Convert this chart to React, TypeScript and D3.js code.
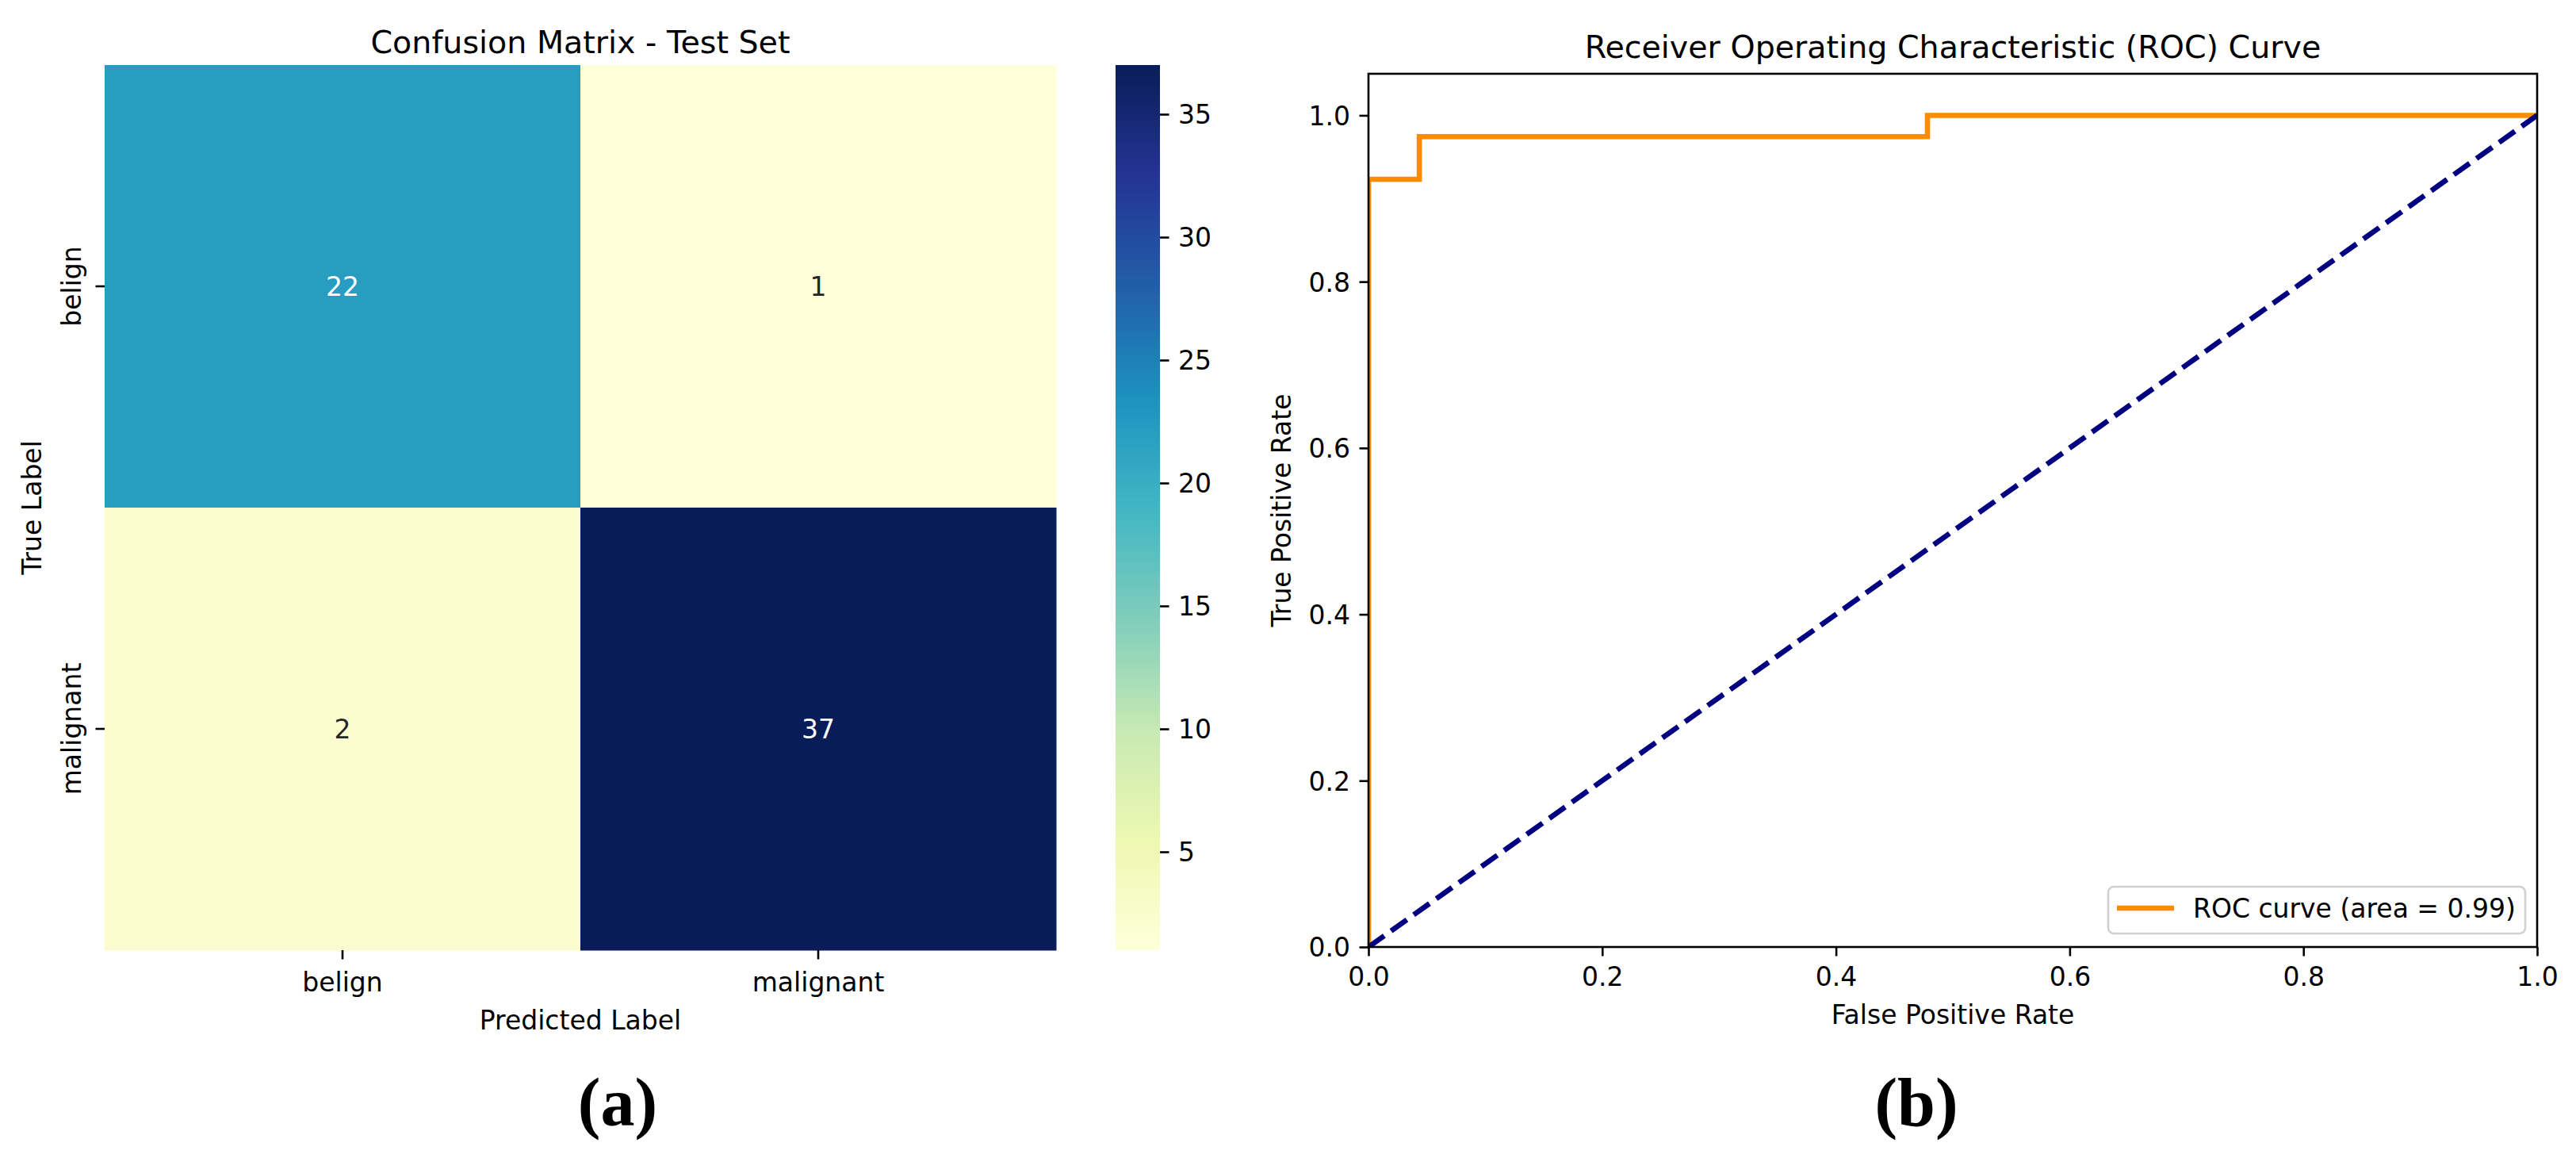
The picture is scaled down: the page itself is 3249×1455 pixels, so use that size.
import { useEffect, useRef } from "react";
import {
  select,
  scaleBand,
  scaleLinear,
  scaleSequential,
  piecewise,
  interpolateRgb,
  axisBottom,
  axisLeft,
  axisRight,
  line,
  format,
  range,
  rgb,
} from "d3";

// chart data
const classLabels = ["belign", "malignant"];
const confusion = [
  [22, 1],
  [2, 37],
];
const colorbarTicks = [5, 10, 15, 20, 25, 30, 35];

const fpr = [0, 0, 0.0435, 0.0435, 0.4783, 0.4783, 1.0];
const tpr = [0, 0.9231, 0.9231, 0.9744, 0.9744, 1.0, 1.0];
const chanceFpr = [0, 1];
const chanceTpr = [0, 1];
const rocTicks = [0, 0.2, 0.4, 0.6, 0.8, 1.0];
const rocLegend = "ROC curve (area = 0.99)";

// matplotlib YlGnBu
const ylgnbu = [
  "#ffffd9", "#edf8b1", "#c7e9b4", "#7fcdbb", "#41b6c4",
  "#1d91c0", "#225ea8", "#253494", "#081d58",
];

const W = 3249;
const H = 1455;
const FONT = "DejaVu Sans";
const FS = 33;
const TITLE_FS = 39.6;
const TICK = 11.5;
const LW = 2.6;

// same rule seaborn uses to pick annotation colour
const luminance = (c: string) => {
  const { r, g, b } = rgb(c);
  const lin = (v: number) => {
    const s = v / 255;
    return s <= 0.03928 ? s / 12.92 : Math.pow((s + 0.055) / 1.055, 2.4);
  };
  return 0.2126 * lin(r) + 0.7152 * lin(g) + 0.0722 * lin(b);
};

const styleAxis = (g: any) => {
  g.select(".domain").remove();
  g.selectAll(".tick line").attr("stroke", "#000").attr("stroke-width", LW);
  g.selectAll(".tick text")
    .attr("fill", "#000")
    .attr("font-size", FS)
    .attr("font-family", FONT);
};

export default function App() {
  const hxRef = useRef<SVGGElement>(null);
  const hyRef = useRef<SVGGElement>(null);
  const cbRef = useRef<SVGGElement>(null);
  const rxRef = useRef<SVGGElement>(null);
  const ryRef = useRef<SVGGElement>(null);

  // heatmap scales
  const hx = scaleBand().domain(classLabels).range([132, 1332]);
  const hy = scaleBand().domain(classLabels).range([82, 1198]);
  const flat = confusion.flat();
  const vmin = Math.min(...flat);
  const vmax = Math.max(...flat);
  const color = scaleSequential(piecewise(interpolateRgb, ylgnbu)).domain([vmin, vmax]);
  const cbScale = scaleLinear().domain([vmin, vmax]).range([1198, 82]);

  // roc scales
  const rx = scaleLinear().domain([0, 1]).range([1726, 3200]);
  const ry = scaleLinear().domain([0, 1.05]).range([1194, 93]);
  const rocPath = line<[number, number]>()
    .x((d) => rx(d[0]))
    .y((d) => ry(d[1]));
  const rocPts = fpr.map((f, i) => [f, tpr[i]] as [number, number]);
  const chancePts = chanceFpr.map((f, i) => [f, chanceTpr[i]] as [number, number]);

  useEffect(() => {
    document.body.style.margin = "0";

    // heatmap x axis
    const gx = select(hxRef.current);
    gx.call(axisBottom(hx).tickSize(TICK).tickPadding(TICK).tickSizeOuter(0) as any);
    styleAxis(gx);
    gx.selectAll(".tick text").attr("dy", "0.87em");

    // heatmap y axis, rotated labels
    const gy = select(hyRef.current);
    gy.call(axisLeft(hy).tickSize(TICK).tickSizeOuter(0) as any);
    styleAxis(gy);
    gy.selectAll(".tick text")
      .attr("transform", "rotate(-90)")
      .attr("x", 0)
      .attr("y", -30)
      .attr("dy", null)
      .attr("text-anchor", "middle");

    // colorbar axis
    const gc = select(cbRef.current);
    gc.call(axisRight(cbScale).tickValues(colorbarTicks).tickSize(TICK).tickPadding(TICK).tickSizeOuter(0) as any);
    styleAxis(gc);
    gc.selectAll(".tick text").attr("dy", "0.36em");

    // roc axes
    const fmt = format(".1f");
    const grx = select(rxRef.current);
    grx.call(axisBottom(rx).tickValues(rocTicks).tickFormat(fmt as any).tickSize(TICK).tickPadding(TICK).tickSizeOuter(0) as any);
    styleAxis(grx);
    grx.selectAll(".tick text").attr("dy", "0.78em");

    const gry = select(ryRef.current);
    gry.call(axisLeft(ry).tickValues(rocTicks).tickFormat(fmt as any).tickSize(TICK).tickPadding(TICK).tickSizeOuter(0) as any);
    styleAxis(gry);
    gry.selectAll(".tick text").attr("dy", "0.36em");
  }, []);

  const gradStops = range(0, 41).map((i) => i / 40);

  return (
    <svg
      width={W}
      height={H}
      style={{ position: "absolute", left: 0, top: 0, background: "#fff" }}
      fontFamily={FONT}
    >
      <defs>
        <linearGradient id="cbar" x1="0" y1="1" x2="0" y2="0">
          {gradStops.map((t) => (
            <stop key={t} offset={t} stopColor={color(vmin + t * (vmax - vmin))} />
          ))}
        </linearGradient>
        <clipPath id="rocClip">
          <rect x={1726} y={93} width={3200 - 1726} height={1194 - 93} />
        </clipPath>
      </defs>
      <rect width={W} height={H} fill="#fff" />

      {/* (a) confusion matrix */}
      <text x={732} y={67} textAnchor="middle" fontSize={TITLE_FS} fill="#000">
        Confusion Matrix - Test Set
      </text>
      {confusion.map((row, i) =>
        row.map((v, j) => {
          const c = color(v);
          return (
            <g key={`${i}-${j}`}>
              <rect
                x={hx(classLabels[j])}
                y={hy(classLabels[i])}
                width={hx.bandwidth() + 0.5}
                height={hy.bandwidth() + 0.5}
                fill={c}
              />
              <text
                x={(hx(classLabels[j]) as number) + hx.bandwidth() / 2}
                y={(hy(classLabels[i]) as number) + hy.bandwidth() / 2}
                dy="0.36em"
                textAnchor="middle"
                fontSize={FS}
                fill={luminance(c) < 0.408 ? "#fff" : "#262626"}
              >
                {v}
              </text>
            </g>
          );
        })
      )}
      <g ref={hxRef} transform="translate(0,1198)" />
      <g ref={hyRef} transform="translate(132,0)" />
      <text x={732} y={1298} textAnchor="middle" fontSize={FS} fill="#000">
        Predicted Label
      </text>
      <text transform="translate(52,640) rotate(-90)" textAnchor="middle" fontSize={FS} fill="#000">
        True Label
      </text>

      {/* colorbar */}
      <rect x={1407} y={82} width={56} height={1198 - 82} fill="url(#cbar)" />
      <g ref={cbRef} transform="translate(1463,0)" />

      {/* (b) roc curve */}
      <text x={2463} y={73} textAnchor="middle" fontSize={TITLE_FS} fill="#000">
        Receiver Operating Characteristic (ROC) Curve
      </text>
      <g clipPath="url(#rocClip)">
        <path d={rocPath(rocPts) as string} fill="none" stroke="#ff8c00" strokeWidth={6.6} />
        <path
          d={rocPath(chancePts) as string}
          fill="none"
          stroke="#000080"
          strokeWidth={6.6}
          strokeDasharray="24.4 10.6"
        />
      </g>
      <rect x={1726} y={93} width={3200 - 1726} height={1194 - 93} fill="none" stroke="#000" strokeWidth={LW} />
      <g ref={rxRef} transform="translate(0,1194)" />
      <g ref={ryRef} transform="translate(1726,0)" />
      <text x={2463} y={1291} textAnchor="middle" fontSize={FS} fill="#000">
        False Positive Rate
      </text>
      <text transform="translate(1628,643.5) rotate(-90)" textAnchor="middle" fontSize={FS} fill="#000">
        True Positive Rate
      </text>

      {/* legend */}
      <rect x={2659} y={1118} width={526} height={59} rx={7} fill="#fff" stroke="#d0d0d0" strokeWidth={LW} />
      <line x1={2670} x2={2742} y1={1145} y2={1145} stroke="#ff8c00" strokeWidth={6.6} />
      <text x={2766} y={1157} fontSize={FS} fill="#000">
        {rocLegend}
      </text>

      {/* panel labels */}
      <text x={779} y={1419} textAnchor="middle" fontSize={86} fontWeight="bold" fontFamily="Liberation Serif" fill="#000">
        (a)
      </text>
      <text x={2417} y={1419} textAnchor="middle" fontSize={86} fontWeight="bold" fontFamily="Liberation Serif" fill="#000">
        (b)
      </text>
    </svg>
  );
}
